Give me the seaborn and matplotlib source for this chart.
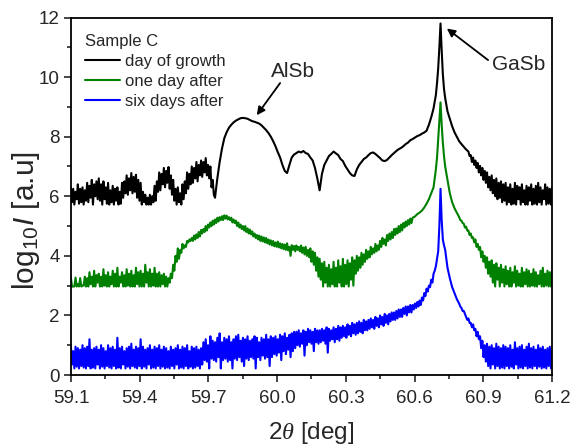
import numpy as np
import pandas as pd
import matplotlib
matplotlib.use("Agg")
import matplotlib.pyplot as plt
import seaborn as sns

# ---- data ----
# readings were taken on a regular grid of 211 samples (index 0..210)
x_start, x_step = 59.069, 0.01015

black_y = [
    6.20, 6.35, 6.10, 6.30, 6.25, 6.15, 6.40, 6.25, 6.30, 6.20,
    6.45, 6.35, 6.55, 6.40, 6.50, 6.60, 6.40, 6.50, 6.30, 6.45,
    6.20, 6.35, 6.25, 6.30, 6.15, 6.45, 6.50, 6.70, 6.60, 6.78,
    6.65, 6.72, 6.55, 6.45, 6.15, 6.05, 5.95, 6.05, 6.00, 6.35,
    6.50, 6.80, 6.75, 6.95, 6.85, 6.98, 6.70, 6.55, 6.25, 6.30,
    6.10, 6.40, 6.50, 6.80, 6.75, 7.00, 6.95, 7.15, 7.05, 7.20,
    7.15, 7.28, 7.05, 7.00, 6.55, 5.95, 6.60, 7.15, 7.60, 7.95,
    8.15, 8.30, 8.40, 8.48, 8.54, 8.58, 8.62, 8.63, 8.62, 8.60,
    8.56, 8.52, 8.50, 8.47, 8.44, 8.38, 8.30, 8.22, 8.12, 8.00,
    7.85, 7.68, 7.48, 7.30, 7.05, 6.85, 6.78, 7.05, 7.30, 7.40,
    7.45, 7.50, 7.47, 7.52, 7.45, 7.42, 7.30, 7.20, 6.95, 6.60,
    6.20, 6.75, 7.05, 7.20, 7.35, 7.42, 7.50, 7.44, 7.38, 7.25,
    7.18, 7.02, 6.90, 6.78, 6.70, 6.68, 6.90, 7.05, 7.15, 7.25,
    7.30, 7.38, 7.45, 7.47, 7.42, 7.35, 7.28, 7.20, 7.18, 7.22,
    7.30, 7.38, 7.45, 7.52, 7.58, 7.62, 7.68, 7.75, 7.80, 7.88,
    7.92, 7.97, 8.02, 8.05, 8.10, 8.14, 8.20, 8.40, 8.65, 8.95,
    9.40, 10.30, 11.80, 10.10, 9.30, 8.85, 8.60, 8.35, 8.15, 8.00,
    7.85, 7.75, 7.66, 7.57, 7.50, 7.38, 7.30, 7.20, 7.12, 7.02,
    6.95, 6.85, 6.80, 6.65, 6.70, 6.55, 6.60, 6.45, 6.50, 6.40,
    6.45, 6.30, 6.40, 6.25, 6.45, 6.35, 6.30, 6.40, 6.20, 6.35,
    6.30, 6.40, 6.25, 6.35, 6.45, 6.30, 6.20, 6.40, 6.30, 6.25,
    6.30,
]
green_y = [
    2.97, 2.97, 3.10, 3.27, 2.97, 3.27, 3.05, 3.25, 3.00, 3.30,
    3.25, 3.45, 3.30, 3.50, 3.35, 3.40, 3.30, 3.55, 3.35, 3.45,
    3.30, 3.50, 3.40, 3.60, 3.30, 3.45, 3.35, 3.55, 3.40, 3.50,
    3.35, 3.60, 3.45, 3.50, 3.40, 3.70, 3.45, 3.55, 3.40, 3.60,
    3.40, 3.45, 3.35, 3.40, 3.30, 3.25, 3.40, 3.70, 4.00, 4.25,
    4.20, 4.40, 4.35, 4.50, 4.55, 4.60, 4.68, 4.72, 4.80, 4.87,
    4.90, 5.00, 5.05, 5.12, 5.18, 5.22, 5.28, 5.30, 5.33, 5.36,
    5.35, 5.30, 5.28, 5.22, 5.18, 5.12, 5.05, 5.00, 5.00, 4.92,
    4.88, 4.82, 4.75, 4.70, 4.68, 4.65, 4.62, 4.60, 4.55, 4.52,
    4.50, 4.45, 4.48, 4.42, 4.40, 4.38, 4.42, 4.30, 4.36, 4.33,
    4.35, 4.30, 4.35, 4.28, 4.30, 4.20, 4.25, 4.15, 4.10, 3.95,
    3.90, 3.75, 3.80, 3.60, 3.70, 3.55, 3.80, 3.60, 3.85, 3.65,
    3.90, 3.70, 3.85, 3.75, 3.95, 3.85, 4.00, 3.95, 4.10, 4.05,
    4.20, 4.15, 4.30, 4.25, 4.40, 4.35, 4.50, 4.60, 4.55, 4.70,
    4.75, 4.80, 4.90, 4.92, 5.00, 5.05, 5.10, 5.15, 5.20, 5.25,
    5.28, 5.32, 5.40, 5.45, 5.52, 5.62, 5.75, 5.90, 6.10, 6.30,
    6.90, 7.90, 9.15, 7.80, 7.00, 6.55, 6.10, 5.80, 5.60, 5.45,
    5.30, 5.18, 5.08, 4.98, 4.85, 4.75, 4.62, 4.55, 4.40, 4.30,
    4.15, 4.00, 3.95, 3.80, 3.85, 3.70, 3.75, 3.60, 3.70, 3.55,
    3.65, 3.50, 3.60, 3.45, 3.65, 3.50, 3.40, 3.60, 3.45, 3.55,
    3.50, 3.40, 3.55, 3.45, 3.35, 3.50, 3.60, 3.40, 3.50, 3.45,
    3.50,
]
blue_y = [
    0.90, 0.95, 0.85, 1.00, 0.80, 0.95, 0.90, 0.85, 1.00, 0.90,
    0.95, 1.20, 0.85, 0.90, 0.95, 0.85, 1.00, 0.90, 0.80, 1.00,
    0.90, 0.95, 0.85, 1.25, 0.90, 0.95, 0.80, 0.90, 0.95, 1.05,
    0.85, 0.95, 0.90, 1.20, 0.95, 0.85, 0.90, 1.00, 0.85, 0.95,
    0.90, 1.00, 0.85, 0.95, 0.90, 0.80, 0.95, 0.85, 0.90, 1.00,
    0.85, 0.95, 0.90, 1.00, 0.80, 0.95, 0.90, 0.95, 0.85, 0.90,
    1.10, 1.20, 1.00, 1.30, 1.15, 1.10, 1.25, 1.40, 1.10, 1.25,
    1.20, 1.30, 1.10, 1.20, 1.30, 1.35, 1.15, 1.25, 1.20, 1.30,
    1.15, 1.20, 1.30, 1.25, 1.10, 1.25, 1.20, 1.35, 1.20, 1.30,
    1.25, 1.30, 1.20, 1.35, 1.30, 1.40, 1.25, 1.35, 1.40, 1.45,
    1.45, 1.50, 1.40, 1.50, 1.45, 1.55, 1.50, 1.45, 1.55, 1.50,
    1.50, 1.55, 1.50, 1.60, 1.55, 1.50, 1.60, 1.55, 1.65, 1.60,
    1.65, 1.60, 1.70, 1.65, 1.75, 1.70, 1.75, 1.80, 1.75, 1.85,
    1.80, 1.85, 1.90, 1.85, 1.95, 1.90, 2.00, 1.95, 2.05, 2.00,
    2.05, 2.10, 2.10, 2.15, 2.20, 2.20, 2.25, 2.30, 2.30, 2.35,
    2.35, 2.40, 2.45, 2.50, 2.60, 2.75, 2.90, 3.00, 3.20, 3.40,
    3.65, 4.15, 6.25, 4.55, 4.20, 3.60, 3.25, 2.95, 2.75, 2.55,
    2.40, 2.25, 2.15, 1.95, 1.90, 1.75, 1.70, 1.55, 1.45, 1.30,
    1.15, 1.00, 1.05, 0.95, 1.00, 0.90, 1.05, 0.95, 0.90, 1.00,
    0.95, 0.90, 1.00, 0.85, 1.10, 0.90, 0.95, 1.00, 0.85, 0.95,
    1.05, 0.90, 0.95, 0.85, 1.00, 0.90, 0.95, 0.85, 0.90, 0.95,
    0.80,
]

# extra samples around the sharp GaSb peak (grid index, value)
peak_idx = [160.5, 161.5, 162.5, 163.5]
black_peak_y = [9.80, 11.00, 10.90, 9.60]
green_peak_y = [7.30, 8.50, 8.40, 7.35]
blue_peak_y = [3.90, 5.00, 5.20, 4.35]

# lower edge of the noisy stretches, read half-way between grid samples
# (start grid index, values at successive samples)
black_noise = [
    (0.5, [5.72, 5.85, 5.72, 5.80, 5.72, 5.90, 5.75, 5.80, 5.72, 5.85,
           5.80, 5.95, 5.72, 6.00, 5.90, 5.85, 5.72, 5.90, 5.75, 5.72,
           5.80, 5.72, 5.85, 5.72, 5.75, 5.95, 6.10, 6.05, 6.20, 6.10,
           6.15, 5.95, 5.85, 5.72, 5.80, 5.72, 5.72, 5.72, 5.80, 5.85,
           6.15, 6.20, 6.40, 6.30, 6.45, 6.25, 6.05, 5.85, 5.72, 5.80,
           5.72, 5.90, 6.10, 6.25, 6.40, 6.45, 6.60, 6.50, 6.70, 6.65,
           6.80, 6.70, 6.60, 6.30, 6.05]),
    (174.5, [7.35, 7.15, 7.05, 6.95, 6.80, 6.70, 6.55, 6.45, 6.30, 6.20,
             6.10, 6.00, 5.90, 5.95, 5.80, 5.85, 5.72, 5.80, 5.72, 5.75,
             5.72, 5.90, 5.72, 5.80, 5.72, 5.72, 5.85, 5.72, 5.75, 5.72,
             5.80, 5.72, 5.90, 5.72, 5.75, 5.72]),
]
green_noise = [
    (0.5, [2.97, 2.97, 2.97, 2.97, 2.97, 2.97, 2.97, 2.97, 3.00, 2.97,
           2.97, 3.05, 2.97, 2.97, 3.10, 2.97, 2.97, 3.00, 2.97, 2.97,
           3.05, 2.97, 2.97, 2.97, 3.10, 2.97, 2.97, 3.00, 2.97, 2.97,
           2.97, 3.05, 2.97, 2.97, 2.97, 3.10, 2.97, 2.97, 3.00, 2.97,
           2.97, 2.97, 3.05, 2.97, 2.97, 3.10, 3.25, 3.50, 3.80, 3.90,
           4.10, 4.25, 4.30, 4.45, 4.50]),
    (55.5, [4.50, 4.55, 4.60, 4.65, 4.75,
            4.80, 4.85, 4.95, 5.00, 5.05, 5.10, 5.15, 5.20, 5.20, 5.25,
            5.22, 5.20, 5.12, 5.10, 5.00, 4.95, 4.90, 4.85, 4.80, 4.75,
            4.72, 4.65, 4.60, 4.55, 4.50, 4.48, 4.45, 4.42, 4.38, 4.35,
            4.32, 4.30, 4.28, 4.25, 4.22, 4.20, 4.18, 4.00, 4.20, 4.15]),
    (100.5, [4.20, 4.15, 4.10, 4.05, 4.00, 3.95, 3.80, 3.70, 3.50, 3.30,
             3.20, 2.97, 3.10, 2.97, 2.97, 3.05, 2.97, 2.97, 3.10, 2.97,
             2.97, 3.05, 2.97, 3.20, 3.00, 3.40, 3.50, 3.60, 3.70, 3.80,
             3.90, 3.95, 4.05, 4.10, 4.15, 4.20, 4.30, 4.40, 4.35, 4.50,
             4.55, 4.60, 4.70, 4.75, 4.80, 4.85, 4.95, 5.00, 5.05, 5.10]),
    (170.5, [5.20, 5.10, 4.95, 4.85, 4.70, 4.60, 4.45, 4.30, 4.20, 3.95,
             3.80, 3.60, 3.40, 3.30, 3.10, 2.97, 3.20, 2.97, 3.10, 2.97,
             3.05, 2.97, 2.97, 3.10, 2.97, 3.00, 2.97, 2.97, 3.05, 2.97,
             2.97, 3.00, 2.97, 2.97, 3.05, 2.97, 2.97, 3.00, 2.97, 2.97]),
]
blue_noise = [
    (0.5, [0.25, 0.30, 0.22, 0.35, 0.22, 0.28, 0.22, 0.30, 0.25, 0.22,
           0.30, 0.22, 0.25, 0.22, 0.35, 0.22, 0.28, 0.22, 0.30, 0.25,
           0.22, 0.30, 0.22, 0.25, 0.22, 0.35, 0.22, 0.28, 0.22, 0.30,
           0.25, 0.22, 0.30, 0.22, 0.28, 0.22, 0.35, 0.22, 0.25, 0.22,
           0.30, 0.22, 0.28, 0.22, 0.25, 0.22, 0.30, 0.22, 0.35, 0.22,
           0.25, 0.22, 0.30, 0.22, 0.28, 0.22, 0.25, 0.30, 0.22, 0.35,
           0.50, 0.45, 0.22, 0.55, 0.50, 0.45, 0.60, 0.22, 0.50, 0.55,
           0.45, 0.50, 0.22, 0.55, 0.50, 0.60, 0.45, 0.30, 0.55, 0.50,
           0.60, 0.55, 0.22, 0.60, 0.50, 0.65, 0.55, 0.60, 0.30, 0.60,
           0.70, 0.65, 0.75, 0.50, 0.80, 0.70, 0.85, 0.60, 0.80, 0.90,
           1.00, 0.95, 1.05, 0.65, 1.00, 1.10, 1.05, 0.80, 1.10, 1.05,
           1.10, 1.15, 1.05, 0.75, 1.15, 1.20, 1.10, 1.20, 1.15, 1.25,
           1.30, 1.25, 1.35, 1.30, 1.40, 1.35, 1.40, 1.45, 1.40, 1.50,
           1.50, 1.55, 1.60, 1.55, 1.65, 1.60, 1.70, 1.65, 1.75, 1.70,
           1.80, 1.85, 1.85, 1.90, 1.95, 1.95, 2.05, 2.00, 2.10, 2.10,
           2.20, 2.25, 2.30, 2.35, 2.50, 2.65, 2.80, 2.95, 3.10, 3.50]),
    (170.5, [2.30, 2.15, 2.05, 1.85, 1.75, 1.60, 1.50, 1.30, 1.20, 0.90,
             0.60, 0.45, 0.30, 0.22, 0.35, 0.22, 0.30, 0.22, 0.25, 0.22,
             0.30, 0.22, 0.28, 0.22, 0.35, 0.22, 0.25, 0.22, 0.30, 0.22,
             0.25, 0.22, 0.30, 0.22, 0.28, 0.22, 0.25, 0.22, 0.30, 0.22]),
]

labels = ["day of growth", "one day after", "six days after"]
colors = ["#000000", "#008000", "#0000ff"]
x_ticks = [59.1, 59.4, 59.7, 60.0, 60.3, 60.6, 60.9, 61.2]
y_ticks = [0, 2, 4, 6, 8, 10, 12]

# ---- build table ----
def to_x(idx):
    return x_start + x_step * idx

frames = []
for lab, ys, pys, segs in zip(labels, [black_y, green_y, blue_y],
                              [black_peak_y, green_peak_y, blue_peak_y],
                              [black_noise, green_noise, blue_noise]):
    idx = list(range(len(ys))) + list(peak_idx)
    yv = list(ys) + list(pys)
    for i0, vals in segs:
        idx += [i0 + k for k in range(len(vals))]
        yv += list(vals)
    d = pd.DataFrame({"x": [to_x(i) for i in idx], "y": yv})
    d["series"] = lab
    frames.append(d.sort_values("x", kind="stable"))
df = pd.concat(frames, ignore_index=True)

# ---- plot ----
sns.set_style("ticks")
plt.rcParams["font.family"] = ["Liberation Sans", "DejaVu Sans"]
plt.rcParams["mathtext.fontset"] = "custom"
plt.rcParams["mathtext.rm"] = "Liberation Sans"
plt.rcParams["mathtext.it"] = "Liberation Sans:italic"
plt.rcParams["mathtext.sf"] = "Liberation Serif:italic"

fig = plt.figure(figsize=(5.74, 4.48), dpi=100)
ax = fig.add_axes([71 / 574, 1 - 375 / 448, 481 / 574, 357.5 / 448])

sns.lineplot(data=df, x="x", y="y", hue="series", hue_order=labels,
             palette=colors, estimator=None, sort=False, linewidth=1.5,
             ax=ax)

ax.set_xlim(59.1, 61.2)
ax.set_ylim(0, 12)
ax.set_xticks(x_ticks)
ax.set_xticklabels([f"{t:.1f}" for t in x_ticks])
ax.set_xticks([t + 0.15 for t in x_ticks[:-1]], minor=True)
ax.set_yticks(y_ticks)
ax.set_yticks([t + 1 for t in y_ticks[:-1]], minor=True)
ax.tick_params(axis="both", which="major", direction="out", length=5,
               width=1.2, labelsize=13.5)
ax.tick_params(axis="x", which="major", pad=6)
ax.tick_params(axis="y", which="major", pad=3)
ax.tick_params(axis="both", which="minor", direction="out", length=3,
               width=1.2)
for s in ax.spines.values():
    s.set_linewidth(1.3)
    s.set_color("black")

ax.set_xlabel(r"2$\mathsf{\theta}$ [deg]", fontsize=17.5)
ax.set_ylabel(r"log$_{10}$$\it{I}$ [a.u]", fontsize=21.5)
ax.xaxis.set_label_coords(0.5, -0.126)
ax.yaxis.set_label_coords(-0.060, 0.431)

leg = ax.legend(title="Sample C", loc="upper left",
                bbox_to_anchor=(0.029, 0.955), frameon=False,
                fontsize=12, title_fontsize=12, handlelength=2.1,
                handletextpad=0.3, labelspacing=0.31, borderpad=0,
                borderaxespad=0, alignment="left")

ax.text(60.067, 10.20, "AlSb", fontsize=15, ha="center", va="center")
ax.annotate("", xy=(59.911, 8.72), xytext=(60.013, 9.80),
            arrowprops=dict(arrowstyle="-|>", color="black", lw=1.3,
                            shrinkA=0, shrinkB=0, mutation_scale=12))
ax.text(61.056, 10.42, "GaSb", fontsize=15, ha="center", va="center")
ax.annotate("", xy=(60.741, 11.63), xytext=(60.921, 10.57),
            arrowprops=dict(arrowstyle="-|>", color="black", lw=1.3,
                            shrinkA=0, shrinkB=0, mutation_scale=12))

fig.savefig("out.png", dpi=100)
